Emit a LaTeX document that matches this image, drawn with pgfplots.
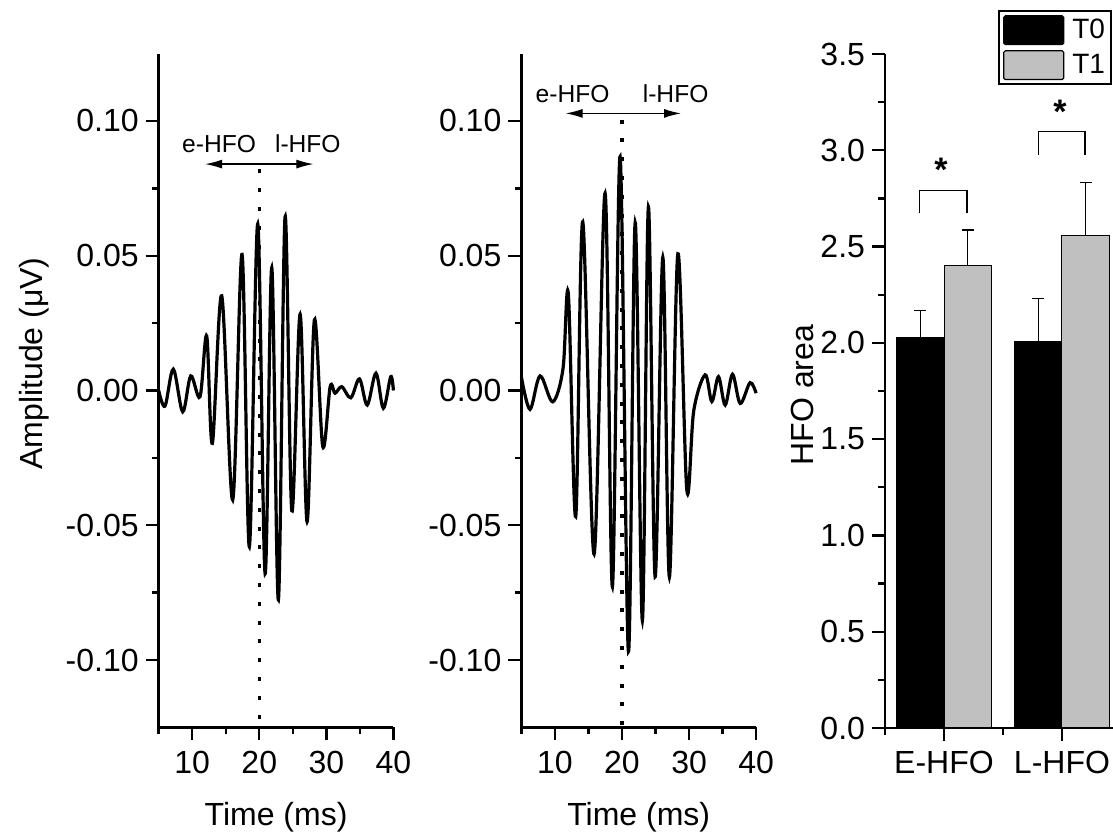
\documentclass[border=0pt]{standalone}
\usepackage{fontspec}
\setmainfont{Liberation Sans}
\usepackage{pgfplots}
\pgfplotsset{compat=1.18}
\usetikzlibrary{arrows.meta}
\definecolor{barGray}{RGB}{192,192,192}
\newcommand{\bigf}{\fontsize{16}{19}\selectfont}
\newcommand{\annf}{\fontsize{12.3}{14}\selectfont}
\pgfplotsset{
  common/.style={
    scale only axis,
    axis x line*=bottom, axis y line*=left,
    axis line style={line width=1.3pt},
    every tick/.style={line width=1.2pt, black},
    tick align=outside, major tick length=6.5pt, minor tick length=3.3pt,
    tick label style={font=\bigf},
    xticklabel style={inner sep=5pt},
    label style={font=\bigf},
  },
  wave/.style={
    common,
    width=117.35pt, height=336.9pt,
    xmin=5, xmax=40, ymin=-0.125, ymax=0.125,
    xtick={10,20,30,40}, minor xtick={5,15,25,35},
    ytick={-0.1,-0.05,0,0.05,0.1},
    minor ytick={-0.075,-0.025,0.025,0.075},
    xticklabel={\pgfmathprintnumber[assume math mode=true]{\tick}},
    yticklabel={\pgfmathprintnumber[fixed,fixed zerofill,precision=2,assume math mode=true]{\tick}},
    xlabel={Time (ms)},
    xlabel style={yshift=-6pt},
    clip=false,
  },
}
\begin{document}
\begin{tikzpicture}
\path[use as bounding box] (0,0) rectangle (556.5pt,419pt);

% ---------- Panel 1 ----------
\begin{axis}[wave, at={(79.35pt,55.3pt)}, anchor=south west,
  ylabel={Amplitude (μV)},
  every axis y label/.style={at={(axis description cs:-0.493,0.54)}, rotate=90, anchor=base, font=\bigf},
]
\addplot[black, line width=1.6pt, smooth, tension=0.55] coordinates {
(5.0,0.000) (5.94,-0.0058) (7.18,0.0079) (8.58,-0.0079) (9.78,0.0054)
(11.16,-0.0023) (12.16,0.0202) (13.0,-0.0196) (14.4,0.0351) (16.04,-0.0406)
(17.43,0.0505) (18.52,-0.058) (19.77,0.0618) (20.87,-0.068) (21.86,0.0456)
(22.85,-0.0777) (23.85,0.0645) (24.85,-0.0446) (26.09,0.0283) (27.13,-0.0487)
(28.22,0.0262) (29.47,-0.0208) (30.57,0.0014) (31.3,-0.001) (32.3,0.0014)
(33.65,-0.0027) (34.94,0.0043) (36.1,-0.0054) (37.4,0.0064) (38.5,-0.0066)
(39.6,0.0051) (40.0,0.000)
};
\draw[line width=1.6pt, dash pattern=on 2pt off 7.4pt] (axis cs:20,0.082) -- (axis cs:20,-0.125);
\draw[line width=0.6pt, {Latex[length=8.5pt,width=4.5pt]}-{Latex[length=8.5pt,width=4.5pt]}] (axis cs:11.93,0.084) -- (axis cs:28.07,0.084);
\node[font=\annf, anchor=base] at (axis cs:14.0,0.0882) {e-HFO};
\node[font=\annf, anchor=base] at (axis cs:27.24,0.0882) {l-HFO};
\end{axis}

% ---------- Panel 2 ----------
\begin{axis}[wave, at={(260.7pt,55.3pt)}, anchor=south west]
\addplot[black, line width=1.6pt, smooth, tension=0.55] coordinates {
(5.0,0.005) (6.28,-0.007) (7.78,0.0054) (9.67,-0.0042) (11.2,0.008)
(12.0,0.0358) (13.1,-0.0468) (14.15,0.0626) (15.84,-0.0607) (17.48,0.0732)
(18.57,-0.0728) (19.72,0.0868) (20.96,-0.0969) (21.97,0.0623) (23.04,-0.0854)
(23.94,0.0682) (24.94,-0.0691) (26.09,0.0494) (27.07,-0.0693) (28.33,0.0507)
(29.67,-0.0369) (30.7,-0.0075) (32.4,0.0058) (33.4,-0.0041) (34.39,0.0051)
(35.39,-0.0054) (36.48,0.006) (37.63,-0.0048) (39.1,0.0029) (40.0,-0.001)
};
\draw[line width=1.6pt, dash pattern=on 2pt off 7.4pt] (axis cs:20,0.1005) -- (axis cs:20,-0.125);
\draw[line width=0.6pt, {Latex[length=8.5pt,width=4.5pt]}-{Latex[length=8.5pt,width=4.5pt]}] (axis cs:11.6,0.1028) -- (axis cs:28.8,0.1028);
\node[font=\annf, anchor=base] at (axis cs:12.63,0.107) {e-HFO};
\node[font=\annf, anchor=base] at (axis cs:28.0,0.107) {l-HFO};
\end{axis}

% ---------- Panel 3 (bars) ----------
\begin{axis}[common, at={(442.5pt,55pt)}, anchor=south west,
  width=113.85pt, height=337pt,
  xmin=0.5, xmax=2.43, ymin=0, ymax=3.5,
  xtick={1,2}, xticklabels={E-HFO,L-HFO}, minor xtick={0.5,1.5},
  ytick={0,0.5,1,1.5,2,2.5,3,3.5},
  minor ytick={0.25,0.75,1.25,1.75,2.25,2.75,3.25},
  yticklabel={\pgfmathprintnumber[fixed,fixed zerofill,precision=1,assume math mode=true]{\tick}},
  ylabel={HFO area},
  every axis y label/.style={at={(axis description cs:-0.316,0.494)}, rotate=90, anchor=base, font=\bigf},
  clip=false,
  legend style={at={(axis description cs:0.997,1.065)}, anchor=north east,
    draw=black, line width=1pt, inner xsep=2pt, inner ysep=2pt,
    font=\fontsize{14}{16}\selectfont, row sep=2.5pt, column sep=3pt,
    nodes={inner sep=1pt}, cells={anchor=west}},
  legend image code/.code={\draw[#1, line width=0.6pt, rounded corners=0.8pt] (0pt,-7.2pt) rectangle (30pt,7.2pt);},
]
\addplot[ybar, bar width=0.4, bar shift=0pt, fill=black, draw=black, line width=0.5pt,
  error bars/.cd, y dir=plus, y explicit,
  error bar style={line width=0.6pt, black},
  error mark options={rotate=90, mark size=3pt, line width=0.6pt, black}]
  coordinates {(0.8,2.028) +- (0,0.139) (1.8,2.006) +- (0,0.225)};
\addlegendentry{T0}
\addplot[ybar, bar width=0.4, bar shift=0pt, fill=barGray, draw=black, line width=0.5pt,
  error bars/.cd, y dir=plus, y explicit,
  error bar style={line width=0.6pt, black},
  error mark options={rotate=90, mark size=3pt, line width=0.6pt, black}]
  coordinates {(1.2,2.404) +- (0,0.182) (2.2,2.558) +- (0,0.275)};
\addlegendentry{T1}
\draw[line width=0.6pt] (axis cs:0.79,2.674) -- (axis cs:0.79,2.793) -- (axis cs:1.195,2.793) -- (axis cs:1.195,2.674);
\draw[line width=0.6pt] (axis cs:1.80,2.975) -- (axis cs:1.80,3.096) -- (axis cs:2.195,3.096) -- (axis cs:2.195,2.975);
\node[anchor=base, font=\fontsize{17}{19}\selectfont\bfseries] at (axis cs:0.975,2.837) {*};
\node[anchor=base, font=\fontsize{17}{19}\selectfont\bfseries] at (axis cs:1.983,3.139) {*};
\end{axis}
\end{tikzpicture}
\end{document}
